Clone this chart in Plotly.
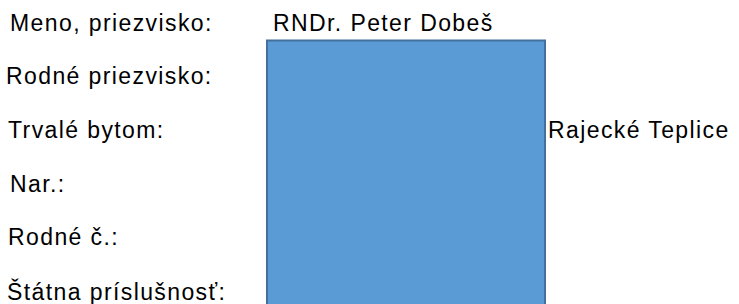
import plotly.graph_objects as go

# --- data ---
field_labels = ["Meno, priezvisko:", "Rodné priezvisko:", "Trvalé bytom:",
                "Nar.:", "Rodné č.:", "Štátna príslušnosť:"]
field_values = ["RNDr. Peter Dobeš", "", "Rajecké Teplice", "", "", ""]
row_index = [0, 1, 2, 3, 4, 5]

# --- layout constants (pixels) ---
W, H = 739, 304
ROW0, ROW_STEP = 22.5, 53.7
LABEL_X = [8, 4, 6, 8, 6, 5]
VALUE_X = [271, 271, 546, 271, 271, 271]
PHOTO = dict(x0=267, x1=545, y0=40.5, y1=320)
FONT = dict(family="Arial, Liberation Sans, sans-serif", size=23, color="#000000")

fig = go.Figure()

annotations = []
for i, lab, val in zip(row_index, field_labels, field_values):
    y = ROW0 + ROW_STEP * i
    annotations.append(dict(x=LABEL_X[i], y=y, text=lab, showarrow=False,
                            xanchor="left", yanchor="middle", align="left",
                            font=FONT, xref="x", yref="y"))
    if val:
        annotations.append(dict(x=VALUE_X[i], y=y, text=val, showarrow=False,
                                xanchor="left", yanchor="middle", align="left",
                                font=FONT, xref="x", yref="y"))

fig.add_shape(type="rect", xref="x", yref="y", **PHOTO,
              fillcolor="#5B9BD5", line=dict(color="#41719C", width=2),
              layer="below")

fig.update_layout(
    width=W, height=H,
    margin=dict(l=0, r=0, t=0, b=0),
    paper_bgcolor="white", plot_bgcolor="white",
    showlegend=False,
    annotations=annotations,
    xaxis=dict(range=[0, W], visible=False, fixedrange=True),
    yaxis=dict(range=[H, 0], visible=False, fixedrange=True),
)

post = """
document.body.style.margin = '0';
document.body.style.overflow = 'hidden';
var gd = document.getElementById('{plot_id}');
function track() {
  gd.querySelectorAll('.annotation-text').forEach(function (t) {
    t.style.letterSpacing = '1.4px';
  });
}
track();
if (gd.on) { gd.on('plotly_afterplot', track); }
"""

fig.write_html("out.html", config={"displayModeBar": False}, post_script=post)
